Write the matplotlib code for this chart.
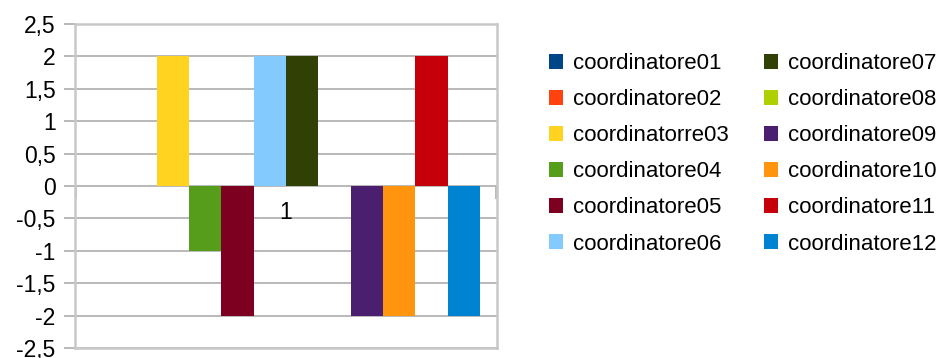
import matplotlib
matplotlib.use("Agg")
import matplotlib.pyplot as plt
import numpy as np
from matplotlib.ticker import FuncFormatter

plt.rcParams['font.family'] = ['Liberation Sans', 'DejaVu Sans']

series = ["coordinatore01", "coordinatore02", "coordinatorre03", "coordinatore04",
          "coordinatore05", "coordinatore06", "coordinatore07", "coordinatore08",
          "coordinatore09", "coordinatore10", "coordinatore11", "coordinatore12"]
values = [0, 0, 2, -1, -2, 2, 2, 0, -2, -2, 2, -2]
colors = ["#004586", "#ff420e", "#ffd320", "#579d1c", "#7e0021", "#83caff",
          "#314004", "#aecf00", "#4b1f6f", "#ff950e", "#c5000b", "#0084d1"]
category = "1"
yticks = [-2.5, -2, -1.5, -1, -0.5, 0, 0.5, 1, 1.5, 2, 2.5]

fig = plt.figure(figsize=(9.45, 3.58), dpi=100)
ax = fig.add_axes([75/945, 1-348/358, (497-75)/945, (348-24)/358])

n = len(series)
offsets = np.arange(n) - (n - 1) / 2
handles = []
for off, v, c, lab in zip(offsets, values, colors, series):
    h = ax.bar(off, v, width=1.0, color=c, label=lab, zorder=3)
    handles.append(h)

xlim = (-6.53, 6.53)
ax.set_xlim(*xlim)
ax.set_ylim(-2.5, 2.5)
ax.set_yticks(yticks)
ax.yaxis.set_major_formatter(FuncFormatter(lambda v, p: (f"{v:g}").replace('.', ',')))
ax.yaxis.grid(True, color="#b3b3b3", linewidth=1.3, zorder=0)
ax.set_xticks([])
ax.tick_params(axis='y', length=8, width=1.3, color="#b3b3b3", labelsize=16.5, pad=6)
for s in ax.spines.values():
    s.set_color("#c8c8c8")
    s.set_linewidth(1.8)

# category axis crossing at zero
sec = ax.secondary_xaxis(0.5)
sec.xaxis.set_ticks_position('bottom')
sec.spines['bottom'].set_color("#b3b3b3")
sec.spines['bottom'].set_linewidth(1.3)
sec.spines['top'].set_visible(False)
sec.set_xticks([-6.51, 6.51])
sec.set_xticklabels(["", ""])
sec.tick_params(axis='x', which='major', direction='out', length=9, width=1.3, color="#b3b3b3")

ax.annotate(category, xy=(0, 0), xycoords='data', xytext=(0, -11),
            textcoords='offset points', ha='center', va='top', fontsize=16.5, zorder=5)

fig.legend(handles=handles, labels=series, ncol=2, loc='upper left',
           bbox_to_anchor=(549/945, 1-53/358), frameon=False, fontsize=16,
           handlelength=0.65, handleheight=0.65, handletextpad=0.45,
           columnspacing=1.55, labelspacing=0.68, borderpad=0, borderaxespad=0)

fig.savefig("out.png", dpi=100)
